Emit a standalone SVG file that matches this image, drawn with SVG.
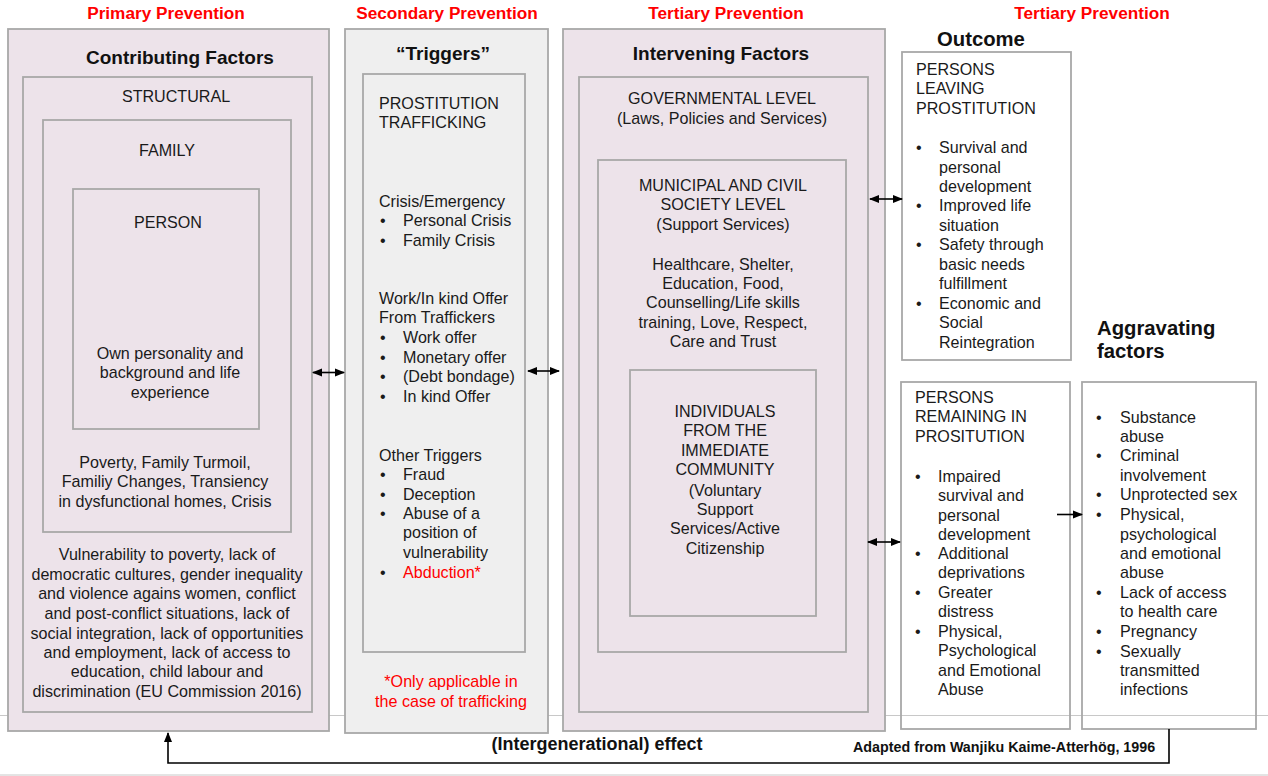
<svg xmlns="http://www.w3.org/2000/svg" width="1268" height="776" viewBox="0 0 1268 776">
<style>
.bg{fill:#ffffff}
.pink{fill:#ede3ea;stroke:#a8a8a8;stroke-width:1.8}
.grey{fill:#efefef;stroke:#a8a8a8;stroke-width:1.8}
.box{fill:none;stroke:#a8a8a8;stroke-width:1.8}
.t{font-family:"Liberation Sans",Arial,sans-serif;font-size:16.1px;fill:#1a1a1a}
.c{text-anchor:middle}
.red{fill:#ff0000}
.hdr{font-family:"Liberation Sans",Arial,sans-serif;font-size:17.2px;font-weight:bold;fill:#ff0000;text-anchor:middle}
.ttl{font-family:"Liberation Sans",Arial,sans-serif;font-size:19px;font-weight:bold;fill:#111}
.ttl2{font-family:"Liberation Sans",Arial,sans-serif;font-size:20.3px;font-weight:bold;fill:#111}
.ln{stroke:#000;stroke-width:1.6;fill:none}
.thin{stroke:#c8c8c8;stroke-width:1;fill:none}
</style>
<defs>
<marker id="ah" markerWidth="10" markerHeight="10" refX="9" refY="5" orient="auto-start-reverse" markerUnits="userSpaceOnUse">
<path d="M0,1 L10,5 L0,9 Z" fill="#000"/>
</marker>
</defs>
<rect class="bg" x="0" y="0" width="1268" height="776"/>
<line class="thin" x1="0" y1="715.5" x2="1268" y2="715.5"/>
<line class="thin" x1="0" y1="775" x2="1268" y2="775"/>

<text class="hdr" x="166" y="19">Primary Prevention</text>
<text class="hdr" x="447" y="19">Secondary Prevention</text>
<text class="hdr" x="726" y="19">Tertiary Prevention</text>
<text class="hdr" x="1092" y="19">Tertiary Prevention</text>

<g id="contributing">
<rect class="pink" x="8" y="29" width="321" height="702"/>
<text class="ttl c" x="180" y="64">Contributing Factors</text>
<rect class="box" x="23" y="77" width="289" height="635"/>
<text class="t c" x="176" y="102">STRUCTURAL</text>
<rect class="box" x="43" y="120" width="248" height="412"/>
<text class="t c" x="167" y="156">FAMILY</text>
<rect class="box" x="73" y="189" width="186" height="240"/>
<text class="t c" x="168" y="228">PERSON</text>
<text class="t c" x="170" y="359">Own personality and</text>
<text class="t c" x="170" y="378">background and life</text>
<text class="t c" x="170" y="398">experience</text>
<text class="t c" x="165" y="468">Poverty, Family Turmoil,</text>
<text class="t c" x="165" y="487">Familiy Changes, Transiency</text>
<text class="t c" x="165" y="507">in dysfunctional homes, Crisis</text>
<text class="t c" x="167" y="560">Vulnerability to poverty, lack of</text>
<text class="t c" x="167" y="580">democratic cultures, gender inequality</text>
<text class="t c" x="167" y="599">and violence agains women, conflict</text>
<text class="t c" x="167" y="619">and post-conflict situations, lack of</text>
<text class="t c" x="167" y="639">social integration, lack of opportunities</text>
<text class="t c" x="167" y="658">and employment, lack of access to</text>
<text class="t c" x="167" y="677">education, child labour and</text>
<text class="t c" x="167" y="697">discrimination (EU Commission 2016)</text>
</g>

<g id="triggers">
<rect class="grey" x="345" y="29" width="203" height="704"/>
<text class="ttl c" x="443" y="60">“Triggers”</text>
<rect class="box" x="363" y="74" width="162" height="578"/>
<text class="t" x="379" y="109">PROSTITUTION</text>
<text class="t" x="379" y="128">TRAFFICKING</text>
<text class="t" x="379" y="207">Crisis/Emergency</text>
<text class="t" x="380" y="226">•</text><text class="t" x="403" y="226">Personal Crisis</text>
<text class="t" x="380" y="246">•</text><text class="t" x="403" y="246">Family Crisis</text>
<text class="t" x="379" y="304">Work/In kind Offer</text>
<text class="t" x="379" y="323">From Traffickers</text>
<text class="t" x="380" y="343">•</text><text class="t" x="403" y="343">Work offer</text>
<text class="t" x="380" y="363">•</text><text class="t" x="403" y="363">Monetary offer</text>
<text class="t" x="380" y="382">•</text><text class="t" x="403" y="382">(Debt bondage)</text>
<text class="t" x="380" y="402">•</text><text class="t" x="403" y="402">In kind Offer</text>
<text class="t" x="379" y="461">Other Triggers</text>
<text class="t" x="380" y="480">•</text><text class="t" x="403" y="480">Fraud</text>
<text class="t" x="380" y="500">•</text><text class="t" x="403" y="500">Deception</text>
<text class="t" x="380" y="519">•</text><text class="t" x="403" y="519">Abuse of a</text>
<text class="t" x="403" y="538">position of</text>
<text class="t" x="403" y="558">vulnerability</text>
<text class="t" x="380" y="578">•</text><text class="t red" x="403" y="578">Abduction*</text>
<text class="t c red" x="451" y="687">*Only applicable in</text>
<text class="t c red" x="451" y="707">the case of trafficking</text>
</g>

<g id="intervening">
<rect class="pink" x="563" y="29" width="322" height="702"/>
<text class="ttl c" x="721" y="60">Intervening Factors</text>
<rect class="box" x="579" y="77" width="289" height="635"/>
<text class="t c" x="722" y="104">GOVERNMENTAL LEVEL</text>
<text class="t c" x="722" y="124">(Laws, Policies and Services)</text>
<rect class="box" x="598" y="160" width="248" height="492"/>
<text class="t c" x="723" y="191">MUNICIPAL AND CIVIL</text>
<text class="t c" x="723" y="210">SOCIETY LEVEL</text>
<text class="t c" x="723" y="230">(Support Services)</text>
<text class="t c" x="723" y="270">Healthcare, Shelter,</text>
<text class="t c" x="723" y="289">Education, Food,</text>
<text class="t c" x="723" y="308">Counselling/Life skills</text>
<text class="t c" x="723" y="328">training, Love, Respect,</text>
<text class="t c" x="723" y="347">Care and Trust</text>
<rect class="box" x="630" y="370" width="186" height="246"/>
<text class="t c" x="725" y="417">INDIVIDUALS</text>
<text class="t c" x="725" y="436">FROM THE</text>
<text class="t c" x="725" y="456">IMMEDIATE</text>
<text class="t c" x="725" y="475">COMMUNITY</text>
<text class="t c" x="725" y="496">(Voluntary</text>
<text class="t c" x="725" y="515">Support</text>
<text class="t c" x="725" y="534">Services/Active</text>
<text class="t c" x="725" y="554">Citizenship</text>
</g>

<g id="outcome-leaving">
<text class="ttl2" x="937" y="46">Outcome</text>
<rect class="box" x="902" y="52" width="169" height="308"/>
<text class="t" x="916" y="75">PERSONS</text>
<text class="t" x="916" y="94">LEAVING</text>
<text class="t" x="916" y="114">PROSTITUTION</text>
<text class="t" x="916" y="153">•</text><text class="t" x="939" y="153">Survival and</text>
<text class="t" x="939" y="173">personal</text>
<text class="t" x="939" y="192">development</text>
<text class="t" x="916" y="211">•</text><text class="t" x="939" y="211">Improved life</text>
<text class="t" x="939" y="231">situation</text>
<text class="t" x="916" y="250">•</text><text class="t" x="939" y="250">Safety through</text>
<text class="t" x="939" y="270">basic needs</text>
<text class="t" x="939" y="289">fulfillment</text>
<text class="t" x="916" y="309">•</text><text class="t" x="939" y="309">Economic and</text>
<text class="t" x="939" y="328">Social</text>
<text class="t" x="939" y="348">Reintegration</text>
</g>

<g id="outcome-remaining">
<rect class="box" x="901" y="382" width="169" height="347"/>
<text class="t" x="915" y="403">PERSONS</text>
<text class="t" x="915" y="422">REMAINING IN</text>
<text class="t" x="915" y="442">PROSITUTION</text>
<text class="t" x="915" y="482">•</text><text class="t" x="938" y="482">Impaired</text>
<text class="t" x="938" y="501">survival and</text>
<text class="t" x="938" y="521">personal</text>
<text class="t" x="938" y="540">development</text>
<text class="t" x="915" y="559">•</text><text class="t" x="938" y="559">Additional</text>
<text class="t" x="938" y="578">deprivations</text>
<text class="t" x="915" y="598">•</text><text class="t" x="938" y="598">Greater</text>
<text class="t" x="938" y="617">distress</text>
<text class="t" x="915" y="637">•</text><text class="t" x="938" y="637">Physical,</text>
<text class="t" x="938" y="656">Psychological</text>
<text class="t" x="938" y="676">and Emotional</text>
<text class="t" x="938" y="695">Abuse</text>
</g>

<g id="aggravating">
<text class="ttl2" x="1097" y="335">Aggravating</text>
<text class="ttl2" x="1097" y="358">factors</text>
<rect class="box" x="1082" y="382" width="174" height="347"/>
<text class="t" x="1096" y="423">•</text><text class="t" x="1120" y="423">Substance</text>
<text class="t" x="1120" y="442">abuse</text>
<text class="t" x="1096" y="461">•</text><text class="t" x="1120" y="461">Criminal</text>
<text class="t" x="1120" y="481">involvement</text>
<text class="t" x="1096" y="500">•</text><text class="t" x="1120" y="500">Unprotected sex</text>
<text class="t" x="1096" y="520">•</text><text class="t" x="1120" y="520">Physical,</text>
<text class="t" x="1120" y="540">psychological</text>
<text class="t" x="1120" y="559">and emotional</text>
<text class="t" x="1120" y="578">abuse</text>
<text class="t" x="1096" y="598">•</text><text class="t" x="1120" y="598">Lack of access</text>
<text class="t" x="1120" y="617">to health care</text>
<text class="t" x="1096" y="637">•</text><text class="t" x="1120" y="637">Pregnancy</text>
<text class="t" x="1096" y="657">•</text><text class="t" x="1120" y="657">Sexually</text>
<text class="t" x="1120" y="676">transmitted</text>
<text class="t" x="1120" y="695">infections</text>
</g>

<g id="connectors">
<line class="ln" x1="313" y1="372.5" x2="344" y2="372.5" marker-start="url(#ah)" marker-end="url(#ah)"/>
<line class="ln" x1="528" y1="371" x2="559" y2="371" marker-start="url(#ah)" marker-end="url(#ah)"/>
<line class="ln" x1="870" y1="199" x2="902" y2="199" marker-start="url(#ah)" marker-end="url(#ah)"/>
<line class="ln" x1="868" y1="542" x2="900" y2="542" marker-start="url(#ah)" marker-end="url(#ah)"/>
<line class="ln" x1="1057" y1="514.5" x2="1082" y2="514.5" marker-end="url(#ah)"/>
<path class="ln" d="M1169,729 L1169,763 L168,763 L168,733" marker-end="url(#ah)"/>
</g>

<g id="footer">
<text font-family="'Liberation Sans',Arial,sans-serif" font-size="18" font-weight="bold" fill="#111" text-anchor="middle" x="597" y="750">(Intergenerational) effect</text>
<text font-family="'Liberation Sans',Arial,sans-serif" font-size="14.3" font-weight="bold" fill="#111" x="853" y="752">Adapted from Wanjiku Kaime-Atterhög, 1996</text>
</g>
</svg>
